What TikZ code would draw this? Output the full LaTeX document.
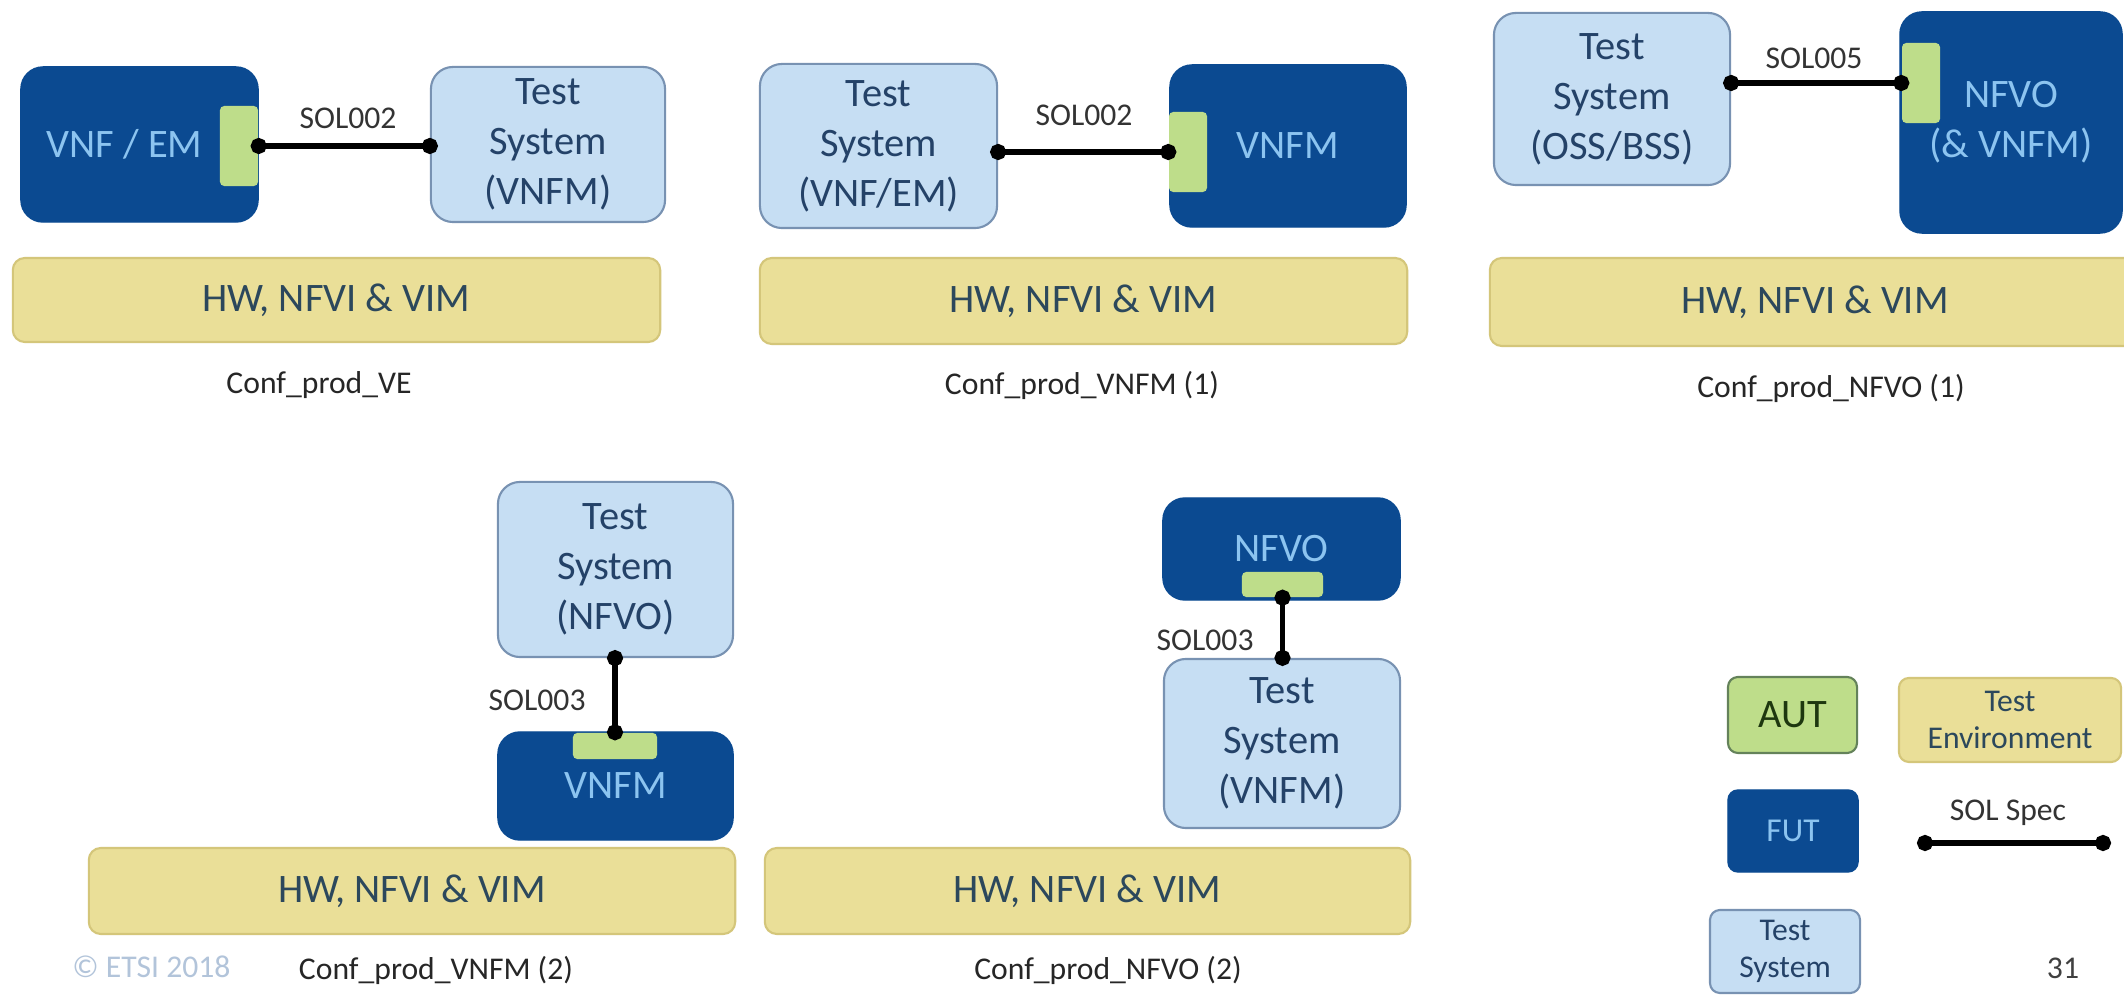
\documentclass[tikz,border=0pt]{standalone}
\usepackage{fontspec}
\setmainfont{Carlito}
\usetikzlibrary{arrows.meta}

\definecolor{futblue}{RGB}{11,74,145}
\definecolor{futtext}{RGB}{140,196,240}
\definecolor{tsfill}{RGB}{198,222,243}
\definecolor{tsline}{RGB}{120,146,178}
\definecolor{tstext}{RGB}{36,66,104}
\definecolor{autgreen}{RGB}{190,221,138}
\definecolor{autline}{RGB}{100,130,90}
\definecolor{autdark}{RGB}{30,55,15}
\definecolor{envfill}{RGB}{234,223,152}
\definecolor{envline}{RGB}{212,198,122}
\definecolor{envtext}{RGB}{44,72,92}
\definecolor{etsigrey}{RGB}{178,196,218}

\newcommand\boxtextsize{\fontsize{11.5}{14.2}\selectfont}
\newcommand\notetextsize{\fontsize{9}{10.6}\selectfont}

\tikzset{
  fut/.style={draw=futblue, fill=futblue, rounded corners=0.22cm, text=futtext, inner sep=0pt, align=center, font=\boxtextsize},
  tsys/.style={draw=tsline, fill=tsfill, line width=0.6pt, rounded corners=0.22cm, text=tstext, inner sep=0pt, align=center, font=\boxtextsize},
  aut/.style={fill=autgreen, inner sep=0pt, rounded corners=1.2pt},
  env/.style={draw=envline, fill=envfill, line width=0.6pt, rounded corners=0.12cm, text=envtext, inner sep=0pt, align=center, font=\boxtextsize},
  sol/.style={line width=1.5pt, {Circle[length=0.16cm]}-{Circle[length=0.16cm]}, shorten <=-0.08cm, shorten >=-0.08cm},
  solname/.style={font=\notetextsize, text=black!80},
  conf/.style={font=\notetextsize, text=black!85},
}

\begin{document}
\begin{tikzpicture}[x=0.01cm, y=-0.01cm]
\useasboundingbox (0,0) rectangle (2124,995);
\fill[white] (0,0) rectangle (2124,995);

% Conf_prod_VE
\node[fut, minimum width=2.37cm, minimum height=1.55cm] (vnfem) at (139.5,144.5) {VNF / EM\hspace*{0.3cm}};
\node[aut, minimum width=0.38cm, minimum height=0.8cm] (vnfem-aut) at (239,146) {};
\node[tsys, minimum width=2.34cm, minimum height=1.55cm] (ts-vnfm) at (548,144.5) {Test\\System\\(VNFM)};
\draw[sol] (vnfem-aut.east) -- (vnfem-aut.east -| ts-vnfm.west);
\node[solname] (sol-ve) at (348,118) {SOL002};
\node[env, minimum width=6.47cm, minimum height=0.84cm] (env-ve) at (336.5,300) {HW, NFVI \& VIM};
\node[conf] (cap-ve) at (319,385) {Conf\_prod\_VE};

% Conf_prod_VNFM (1)
\node[tsys, minimum width=2.37cm, minimum height=1.64cm] (ts-vnfem) at (878.5,146) {Test\\System\\(VNF/EM)};
\node[fut, minimum width=2.36cm, minimum height=1.62cm] (vnfm-a) at (1288,146) {VNFM};
\node[aut, minimum width=0.38cm, minimum height=0.8cm] (vnfm-a-aut) at (1188,152) {};
\draw[sol] (ts-vnfem.east |- vnfm-a-aut.west) -- (vnfm-a-aut.west);
\node[solname] (sol-vnfm-a) at (1084,115) {SOL002};
\node[env, minimum width=6.47cm, minimum height=0.86cm] (env-vnfm-a) at (1083.5,301) {HW, NFVI \& VIM};
\node[conf] (cap-vnfm-a) at (1082,385) {Conf\_prod\_VNFM (1)};

% Conf_prod_NFVO (1)
\node[tsys, minimum width=2.36cm, minimum height=1.72cm] (ts-oss) at (1612,99) {Test\\System\\(OSS/BSS)};
\node[fut, minimum width=2.22cm, minimum height=2.21cm] (nfvo-a) at (2011,122.5) {NFVO\\(\& VNFM)};
\node[aut, minimum width=0.38cm, minimum height=0.8cm] (nfvo-a-aut) at (1921,83) {};
\draw[sol] (ts-oss.east |- nfvo-a-aut.west) -- (nfvo-a-aut.west);
\node[solname] (sol-nfvo-a) at (1814,58) {SOL005};
\node[env, minimum width=6.5cm, minimum height=0.88cm] (env-nfvo-a) at (1815,302) {HW, NFVI \& VIM};
\node[conf] (cap-nfvo-a) at (1831,388) {Conf\_prod\_NFVO (1)};

% Conf_prod_VNFM (2)
\node[tsys, minimum width=2.35cm, minimum height=1.75cm] (ts-nfvo) at (615.5,569.5) {Test\\System\\(NFVO)};
\node[fut, minimum width=2.35cm, minimum height=1.08cm] (vnfm-b) at (615.5,786) {VNFM};
\node[aut, minimum width=0.84cm, minimum height=0.26cm] (vnfm-b-aut) at (615,746) {};
\draw[sol] (ts-nfvo.south -| vnfm-b-aut.north) -- (vnfm-b-aut.north);
\node[solname, anchor=east] (sol-vnfm-b) at (598,700) {SOL003};
\node[env, minimum width=6.46cm, minimum height=0.86cm] (env-vnfm-b) at (412,891) {HW, NFVI \& VIM};
\node[conf] (cap-vnfm-b) at (436,970) {Conf\_prod\_VNFM (2)};
\node[font=\notetextsize, text=etsigrey, anchor=west] (etsi) at (60,967) {\textcopyright{} ETSI 2018};

% Conf_prod_NFVO (2)
\node[fut, minimum width=2.37cm, minimum height=1.02cm] (nfvo-b) at (1281.5,549) {NFVO};
\node[aut, minimum width=0.81cm, minimum height=0.25cm] (nfvo-b-aut) at (1282.5,584.5) {};
\node[tsys, minimum width=2.36cm, minimum height=1.69cm] (ts-vnfm-b) at (1282,743.5) {Test\\System\\(VNFM)};
\draw[sol] (nfvo-b-aut.south) -- (nfvo-b-aut.south |- ts-vnfm-b.north);
\node[solname, anchor=east] (sol-nfvo-b) at (1266,640) {SOL003};
\node[env, minimum width=6.45cm, minimum height=0.86cm] (env-nfvo-b) at (1087.5,891) {HW, NFVI \& VIM};
\node[conf] (cap-nfvo-b) at (1108,970) {Conf\_prod\_NFVO (2)};

% key
\node[aut, draw=autline, line width=0.6pt, rounded corners=0.1cm, minimum width=1.29cm, minimum height=0.76cm, font=\boxtextsize, text=autdark] (key-aut) at (1792.5,715) {AUT};
\node[env, rounded corners=0.1cm, minimum width=2.22cm, minimum height=0.84cm, font=\notetextsize] (key-env) at (2010,720) {Test\\Environment};
\node[fut, rounded corners=0.1cm, minimum width=1.3cm, minimum height=0.82cm, font=\fontsize{9.5}{11}\selectfont] (key-fut) at (1793,831) {FUT};
\node[solname] (key-sol) at (2008,813) {SOL Spec};
\coordinate (key-sol-a) at (1925,843);
\coordinate (key-sol-b) at (2103,843);
\draw[sol] (key-sol-a) -- (key-sol-b);
\node[tsys, rounded corners=0.1cm, minimum width=1.5cm, minimum height=0.83cm, font=\notetextsize] (key-ts) at (1785,951.5) {Test\\System};
\node[font=\notetextsize, text=black!75] (page-no) at (2063,968) {31};
\end{tikzpicture}
\end{document}
